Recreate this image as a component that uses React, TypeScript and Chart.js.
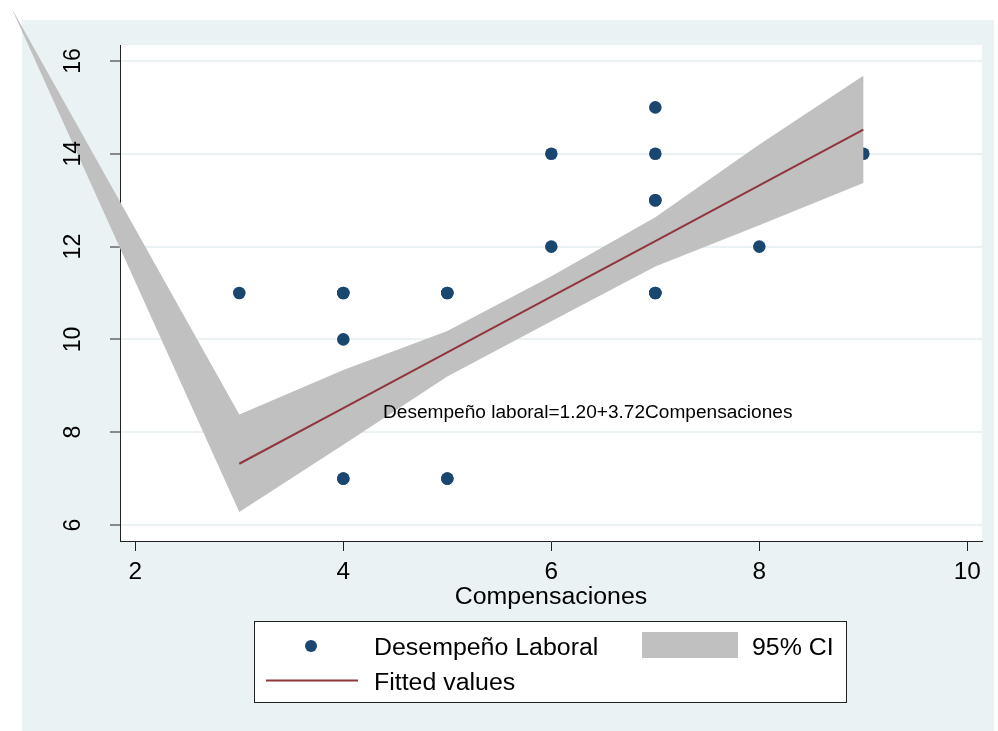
import React, { useEffect, useRef } from "react";
import { Chart, registerables } from "chart.js";

Chart.register(...registerables);

// ---- data ----
const SCATTER_X = [3, 4, 4, 4, 4, 4, 5, 5, 5, 5, 6, 6, 7, 7, 7, 7, 7, 7, 8, 9];
const SCATTER_Y = [11, 11, 11, 10, 7, 7, 11, 11, 7, 7, 14, 12, 15, 14, 13, 13, 11, 11, 12, 14];

const FIT_X = [3, 4, 5, 6, 7, 8, 9];
const FIT_Y = [7.32, 8.52, 9.72, 10.92, 12.12, 13.32, 14.52];

const CI_X = [3, 4, 5, 6, 7, 8, 9];
const CI_UPPER = [8.38, 9.34, 10.18, 11.36, 12.63, 14.2, 15.68];
const CI_LOWER = [6.28, 7.73, 9.2, 10.39, 11.57, 12.46, 13.37];
// stray vertex of the CI polygon (lies outside the plot region)
const CI_STRAY_X = 0.81;
const CI_STRAY_Y = 17.14;

const X_TICKS = [2, 4, 6, 8, 10];
const Y_TICKS = [6, 8, 10, 12, 14, 16];
const X_MIN = 1.853;
const X_MAX = 10.141;
const Y_MIN = 5.655;
const Y_MAX = 16.345;

const X_TITLE = "Compensaciones";
const ANNOTATION = "Desempeño laboral=1.20+3.72Compensaciones";
const LEGEND_SCATTER = "Desempeño Laboral";
const LEGEND_CI = "95% CI";
const LEGEND_FIT = "Fitted values";

// ---- styles ----
const BG = "#EAF2F3";
const NAVY = "#1A476F";
const MAROON = "#90353B";
const CI_GRAY = "#C0C0C0";
const FONT = '"Liberation Sans", Arial, Helvetica, sans-serif';
const SX = 1.06;

function drawText(
  ctx: CanvasRenderingContext2D,
  s: string,
  x: number,
  y: number,
  size: number,
  align: CanvasTextAlign,
  rot = 0
) {
  ctx.save();
  ctx.translate(x, y);
  ctx.scale(SX, 1);
  if (rot) ctx.rotate(rot);
  ctx.font = `${size}px ${FONT}`;
  ctx.textAlign = align;
  ctx.textBaseline = "alphabetic";
  ctx.fillStyle = "#000";
  ctx.fillText(s, 0, 0);
  ctx.restore();
}

const stataPlugin = {
  id: "stataDecor",
  beforeDraw(chart: any) {
    const { ctx, chartArea } = chart;
    ctx.save();
    ctx.fillStyle = "#ffffff";
    ctx.fillRect(0, 0, chart.width, chart.height);
    ctx.fillStyle = BG;
    ctx.fillRect(22, 20, 972, 711);
    ctx.fillStyle = "#ffffff";
    ctx.fillRect(
      chartArea.left,
      chartArea.top,
      chartArea.right - chartArea.left,
      chartArea.bottom - chartArea.top
    );
    ctx.restore();
  },
  beforeDatasetDraw(chart: any, args: any) {
    if (args.index !== 0) return;
    const { ctx } = chart;
    const xs = chart.scales.x;
    const ys = chart.scales.y;
    ctx.save();
    ctx.beginPath();
    ctx.moveTo(xs.getPixelForValue(CI_STRAY_X), ys.getPixelForValue(CI_STRAY_Y));
    for (let i = 0; i < CI_X.length; i++) {
      ctx.lineTo(xs.getPixelForValue(CI_X[i]), ys.getPixelForValue(CI_UPPER[i]));
    }
    for (let i = CI_X.length - 1; i >= 0; i--) {
      ctx.lineTo(xs.getPixelForValue(CI_X[i]), ys.getPixelForValue(CI_LOWER[i]));
    }
    ctx.closePath();
    ctx.fillStyle = CI_GRAY;
    ctx.fill();
    ctx.restore();
  },
  afterDraw(chart: any) {
    const { ctx } = chart;
    const xs = chart.scales.x;
    const ys = chart.scales.y;
    // tick labels
    for (const v of X_TICKS) {
      drawText(ctx, String(v), xs.getPixelForValue(v), 579, 23, "center");
    }
    for (const v of Y_TICKS) {
      drawText(ctx, String(v), 80, ys.getPixelForValue(v), 23, "center", -Math.PI / 2);
    }
    // axis title
    drawText(ctx, X_TITLE, (chart.chartArea.left + chart.chartArea.right) / 2, 603.5, 23.5, "center");
    // annotation
    drawText(ctx, ANNOTATION, 383, 418, 18, "left");

    // legend
    ctx.save();
    ctx.fillStyle = "#ffffff";
    ctx.fillRect(254.5, 621.5, 592, 81);
    ctx.strokeStyle = "#222";
    ctx.lineWidth = 1;
    ctx.strokeRect(254.5, 621.5, 592, 81);
    ctx.fillStyle = NAVY;
    ctx.beginPath();
    ctx.arc(311, 646, 6, 0, Math.PI * 2);
    ctx.fill();
    ctx.fillStyle = CI_GRAY;
    ctx.fillRect(642, 632, 96, 26);
    ctx.strokeStyle = MAROON;
    ctx.lineWidth = 2;
    ctx.beginPath();
    ctx.moveTo(266, 680.5);
    ctx.lineTo(358, 680.5);
    ctx.stroke();
    ctx.restore();
    drawText(ctx, LEGEND_SCATTER, 374, 654.5, 23.5, "left");
    drawText(ctx, LEGEND_CI, 752, 654.5, 23.5, "left");
    drawText(ctx, LEGEND_FIT, 374, 689.5, 23.5, "left");
  },
};

export default function App() {
  const canvasRef = useRef<HTMLCanvasElement | null>(null);

  useEffect(() => {
    if (!canvasRef.current) return;
    const chart = new Chart(canvasRef.current, {
      type: "scatter",
      data: {
        datasets: [
          {
            label: LEGEND_FIT,
            data: FIT_X.map((x, i) => ({ x, y: FIT_Y[i] })),
            showLine: true,
            borderColor: MAROON,
            borderWidth: 2,
            pointRadius: 0,
            fill: false,
          },
          {
            label: LEGEND_SCATTER,
            data: SCATTER_X.map((x, i) => ({ x, y: SCATTER_Y[i] })),
            backgroundColor: NAVY,
            borderWidth: 0,
            pointRadius: 6.3,
          },
        ],
      },
      options: {
        responsive: false,
        animation: false,
        devicePixelRatio: 1,
        layout: { padding: { left: 0, top: 45, right: 16, bottom: 0 } },
        plugins: {
          legend: { display: false },
          tooltip: { enabled: false },
        },
        scales: {
          x: {
            type: "linear",
            min: X_MIN,
            max: X_MAX,
            afterBuildTicks: (s: any) => {
              s.ticks = X_TICKS.map((v) => ({ value: v }));
            },
            afterFit: (s: any) => {
              s.height = 190;
            },
            ticks: { display: false },
            grid: {
              drawOnChartArea: false,
              drawTicks: true,
              tickLength: 10,
              tickColor: "#222",
              tickWidth: 1,
            },
            border: { display: true, color: "#222", width: 1 },
          },
          y: {
            type: "linear",
            min: Y_MIN,
            max: Y_MAX,
            afterBuildTicks: (s: any) => {
              s.ticks = Y_TICKS.map((v) => ({ value: v }));
            },
            afterFit: (s: any) => {
              s.width = 120;
            },
            ticks: { display: false },
            grid: {
              color: BG,
              lineWidth: 2,
              drawTicks: true,
              tickLength: 10,
              tickColor: "#222",
              tickWidth: 1,
            },
            border: { display: true, color: "#222", width: 1 },
          },
        },
      },
      plugins: [stataPlugin],
    });
    return () => chart.destroy();
  }, []);

  return (
    <div style={{ position: "fixed", left: 0, top: 0, width: 998, height: 731 }}>
      <canvas ref={canvasRef} width={998} height={731} style={{ display: "block" }} />
    </div>
  );
}
